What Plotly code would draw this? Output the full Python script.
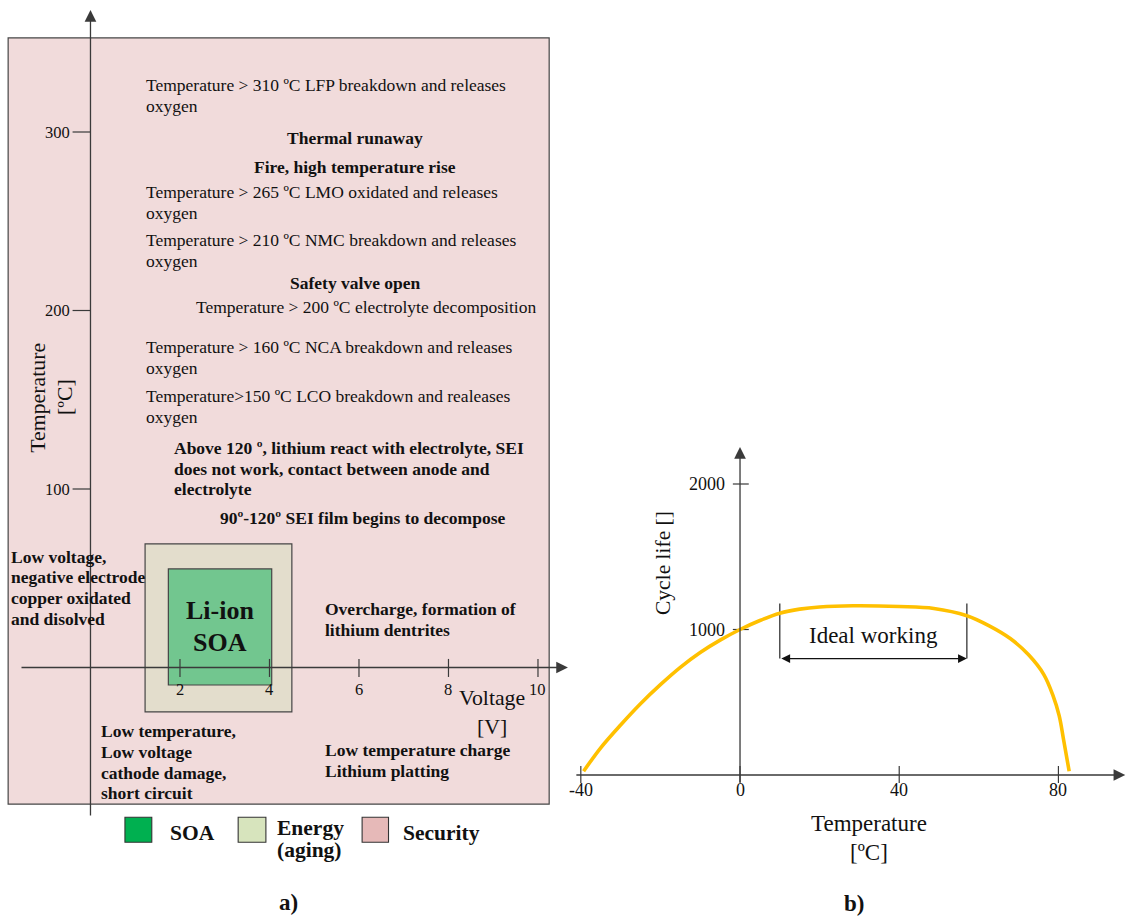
import plotly.graph_objects as go

FONT = "Liberation Serif, Times New Roman, serif"
INK = "#3a3a3a"
TXT = "#111111"

# ---------------- panel a): operating windows of a Li-ion cell ----------------
volt_ticks = [2, 4, 6, 8, 10]
temp_ticks = [100, 200, 300]

# regions (voltage span [V], temperature span [degC])
soa_volt = [1.74, 4.05]
soa_temp = [-9.8, 55.2]
energy_volt = [1.22, 4.50]
energy_temp = [-24.9, 69.2]
security_volt = [-1.84, 10.25]
security_temp = [-76.5, 352.7]

# ---------------- panel b): cycle life versus temperature ----------------
cell_temp = [-39.3, -35.0, -30.0, -25.0, -20.0, -15.0, -10.0, -5.0, 0.0, 5.0,
             10.0, 15.0, 20.0, 28.4, 40.0, 48.7, 57.0, 62.5, 67.9, 72.5, 76.3,
             78.6, 80.2, 81.3, 82.7]
cycle_life = [26, 187, 344, 490, 621, 740, 842, 927, 1000, 1062,
              1112, 1140, 1155, 1163, 1158, 1145, 1095, 1027, 938, 826, 692,
              549, 406, 242, 26]
life_xticks = [-40, 0, 40, 80]
life_yticks = [1000, 2000]
ideal_range = [10, 57]

# ---------------- styling ----------------
C_SECURITY = "#f1dbdb"
C_ENERGY = "#e3ddcc"
C_SOA = "#72c68f"
C_LEG_SOA = "#00b050"
C_LEG_ENERGY = "#d7e4bd"
C_LEG_SECURITY = "#e6b9b8"
C_CURVE = "#ffc000"

W, H = 1126, 918

fig = go.Figure()

# tick marks of panel a)
tx, ty = [], []
for v in volt_ticks:
    tx += [v, v, None]
    ty += [-5.3, 4.8, None]
for t in temp_ticks:
    tx += [-0.4, 0, None]
    ty += [t, t, None]
fig.add_trace(go.Scatter(x=tx, y=ty, mode="lines", xaxis="x", yaxis="y",
                         line=dict(color=INK, width=1.2), hoverinfo="skip",
                         showlegend=False))

# tick marks of panel b)
bx, by = [], []
for t in life_xticks:
    bx += [t, t, None]
    by += [-55, 62, None]
for c in life_yticks:
    bx += [-1.8, 2.2, None]
    by += [c, c, None]
fig.add_trace(go.Scatter(x=bx, y=by, mode="lines", xaxis="x2", yaxis="y2",
                         line=dict(color=INK, width=1.2), hoverinfo="skip",
                         showlegend=False))

# ideal-working bracket sides
for t in ideal_range:
    fig.add_trace(go.Scatter(x=[t, t], y=[800, 1178], mode="lines",
                             xaxis="x2", yaxis="y2",
                             line=dict(color="#111111", width=1.1),
                             hoverinfo="skip", showlegend=False))

# cycle-life curve
fig.add_trace(go.Scatter(x=cell_temp, y=cycle_life, mode="lines",
                         xaxis="x2", yaxis="y2",
                         line=dict(color=C_CURVE, width=3.6, shape="spline",
                                   smoothing=1.0),
                         hoverinfo="skip", showlegend=False))

# region boxes
shapes = []
for (vs, ts, col) in [(security_volt, security_temp, C_SECURITY),
                      (energy_volt, energy_temp, C_ENERGY),
                      (soa_volt, soa_temp, C_SOA)]:
    shapes.append(dict(type="rect", xref="x", yref="y", x0=vs[0], x1=vs[1],
                       y0=ts[0], y1=ts[1], fillcolor=col,
                       line=dict(color="#454545", width=1.2), layer="below"))

# legend swatches
legend_boxes = [((0.77, 1.37), C_LEG_SOA), ((3.30, 3.92), C_LEG_ENERGY),
                ((6.07, 6.66), C_LEG_SECURITY)]
for (x0, x1), col in legend_boxes:
    shapes.append(dict(type="rect", xref="x", yref="y", x0=x0, x1=x1,
                       y0=-97.9, y1=-83.9, fillcolor=col,
                       line=dict(color="#333333", width=1.1)))

annotations = []


def arrow(xref, yref, tail, tip, both=False, size=1.8, width=1.3, color=INK):
    a = dict(xref=xref, yref=yref, axref=xref, ayref=yref,
             x=tip[0], y=tip[1], ax=tail[0], ay=tail[1], text="",
             showarrow=True, arrowhead=2, arrowsize=size, arrowwidth=width,
             arrowcolor=color, standoff=0, startstandoff=0)
    if both:
        a.update(arrowside="end+start", startarrowhead=2, startarrowsize=size)
    annotations.append(a)


def label(text, x, y, xref="x", yref="y", size=17.5, bold=False,
          xanchor="left", yanchor="middle", angle=0):
    if bold:
        text = "<b>" + text + "</b>"
    annotations.append(dict(xref=xref, yref=yref, x=x, y=y, text=text,
                            showarrow=False, xanchor=xanchor, yanchor=yanchor,
                            textangle=angle, borderpad=0,
                            font=dict(family=FONT, size=size, color=TXT)))


def block(lines, x, y0, bold=False, step=11.65, xanchor="left", size=17.5):
    for i, ln in enumerate(lines):
        label(ln, x, y0 - i * step, bold=bold, xanchor=xanchor, size=size)


# axes of panel a)
arrow("x", "y", (0, -83.8), (0, 368.3))
arrow("x", "y", (-1.575, 0), (10.67, 0))
for v in volt_ticks:
    label(str(v), v, -12.3, size=16.5, xanchor="center")
for t in temp_ticks:
    label(str(t), -0.44, t, size=16.5, xanchor="right")
label("Voltage", 8.98, -17.3, size=21.8, xanchor="center")
label("[V]", 8.98, -33.2, size=21.8, xanchor="center")
label("Temperature", -1.166, 151.3, size=21.8, xanchor="center", angle=-90)
label("[ºC]", -0.554, 151.3, size=21.8, xanchor="center", angle=-90)

# descriptions of panel a)
block(["Temperature > 310 ºC LFP breakdown and releases", "oxygen"], 1.218, 326.3)
label("Thermal runaway", 5.92, 296.8, bold=True, xanchor="center")
label("Fire, high temperature rise", 5.92, 280.4, bold=True, xanchor="center")
block(["Temperature > 265 ºC LMO oxidated and releases", "oxygen"], 1.218, 266.2)
block(["Temperature > 210 ºC NMC breakdown and releases", "oxygen"], 1.218, 239.5)
label("Safety valve open", 5.92, 215.2, bold=True, xanchor="center")
label("Temperature > 200 ºC electrolyte decomposition", 2.335, 202.1)
block(["Temperature > 160 ºC NCA breakdown and releases", "oxygen"], 1.218, 179.7)
block(["Temperature>150 ºC LCO breakdown and realeases", "oxygen"], 1.218, 152.1)
block(["Above 120 º, lithium react with electrolyte, SEI",
       "does not work, contact between anode and",
       "electrolyte"], 1.844, 123.1, bold=True)
label("90º-120º SEI film begins to decompose", 2.872, 84.0, bold=True)
block(["Low voltage,", "negative electrode", "copper oxidated", "and disolved"],
      -1.80, 62.1, bold=True)
block(["Li-ion", "SOA"], 2.883, 31.8, bold=True, step=17.9, xanchor="center",
      size=26)
block(["Overcharge, formation of", "lithium dentrites"], 5.225, 32.6, bold=True)
block(["Low temperature charge", "Lithium platting"], 5.225, -46.2, bold=True)
block(["Low temperature,", "Low voltage", "cathode damage,", "short circuit"],
      0.212, -35.6, bold=True)

# legend texts
label("SOA", 1.761, -92.9, bold=True, size=21.5)
label("Energy", 4.145, -90.1, bold=True, size=21.5)
label("(aging)", 4.145, -102.2, bold=True, size=21.5)
label("Security", 6.954, -92.9, bold=True, size=21.5)
label("a)", 4.436, -131.9, bold=True, size=23, xanchor="center")

# axes of panel b)
arrow("x2", "y2", (0, -60), (0, 2254))
arrow("x2", "y2", (-41.5, 0), (96.8, 0))
for t in life_xticks:
    label(str(t), t, -100, xref="x2", yref="y2", size=18, xanchor="center")
for c in life_yticks:
    label(str(c), -3.6, c, xref="x2", yref="y2", size=18, xanchor="right")
label("Temperature", 32.3, -330, xref="x2", yref="y2", size=23, xanchor="center")
label("[ºC]", 32.3, -530, xref="x2", yref="y2", size=23, xanchor="center")
label("Cycle life []", -19.5, 1460, xref="x2", yref="y2", size=21.5,
      xanchor="center", angle=-90)
label("b)", 28.6, -880, xref="x2", yref="y2", bold=True, size=23,
      xanchor="center")

# ideal working range
arrow("x2", "y2", (ideal_range[0], 800), (ideal_range[1], 800), both=True,
      size=1.6, width=1.1, color="#111111")
label("Ideal working", 33.5, 960, xref="x2", yref="y2", size=23,
      xanchor="center")

hidden = dict(visible=False, showgrid=False, zeroline=False, fixedrange=True)
fig.update_layout(
    width=W, height=H, autosize=False,
    margin=dict(l=0, r=0, t=0, b=0),
    paper_bgcolor="white", plot_bgcolor="white",
    showlegend=False,
    xaxis=dict(domain=[0, 580 / W], range=[-2.022, 10.939], **hidden),
    yaxis=dict(domain=[0, 1], range=[-140.34, 373.95], anchor="x", **hidden),
    xaxis2=dict(domain=[560 / W, 1], range=[-45.23, 96.98], anchor="y2",
                **hidden),
    yaxis2=dict(domain=[0, 1], range=[-982.8, 5326.5], anchor="x2", **hidden),
    shapes=shapes,
    annotations=annotations,
)

fig.write_html("out.html", config={"displayModeBar": False})
